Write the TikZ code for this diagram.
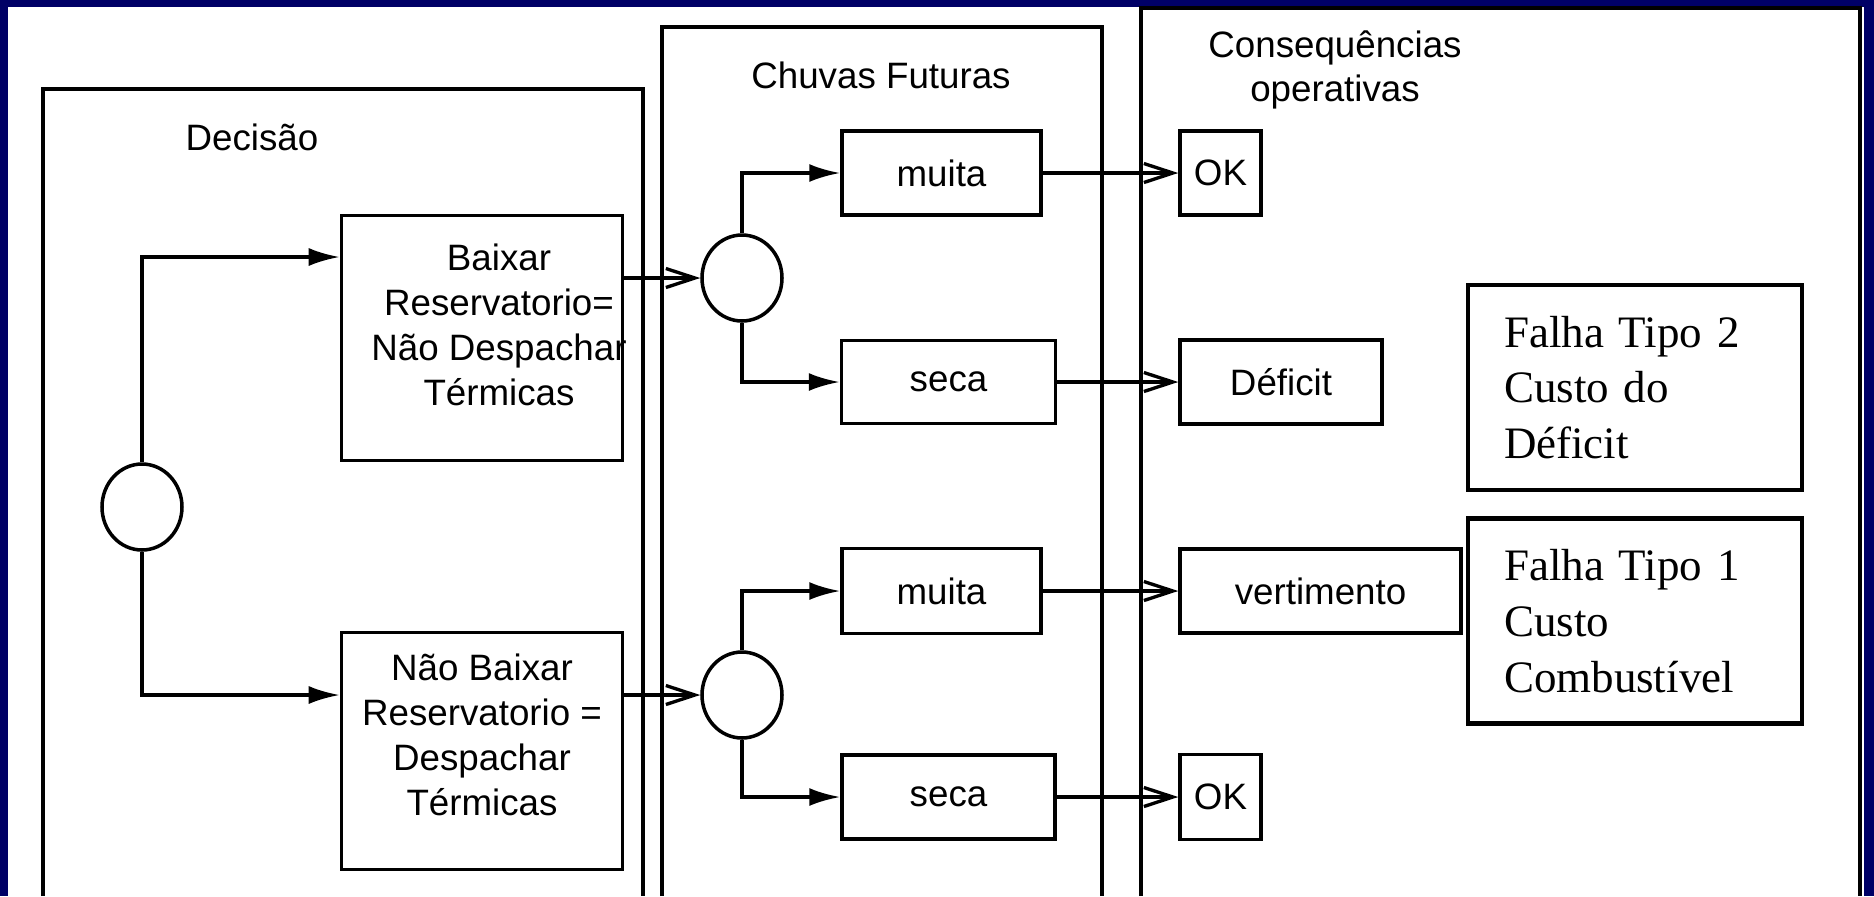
\documentclass[tikz,border=0pt]{standalone}
\usepackage{fontspec}
\setmainfont{Liberation Serif}
\setsansfont{Liberation Sans}
\usetikzlibrary{positioning,arrows.meta,shapes.geometric}
\definecolor{navy}{HTML}{000066}
\tikzset{
  lane/.style={draw, line width=0.95pt},
  lanetitle/.style={font=\sffamily\fontsize{10.45}{12.4}\selectfont, align=center},
  choice/.style={rectangle, draw, line width=1pt, inner sep=0pt, align=center,
                 font=\sffamily\fontsize{10.45}{12.8}\selectfont},
  choicetext/.style={align=center, font=\sffamily\fontsize{10.45}{12.8}\selectfont},
  chance/.style={ellipse, draw, line width=1pt, minimum width=8mm,
                 minimum height=8.6mm, inner sep=0pt},
  failbox/.style={rectangle, draw, line width=1.25pt, inner xsep=3.6mm, inner ysep=0pt,
                  text width=26.2mm, minimum height=20.5mm, align=left,
                  font=\fontsize{12.8}{15.9}\selectfont},
  decide/.style={-{Latex[length=3.1mm,width=1.8mm]}, line width=0.95pt},
  outcome/.style={-{Straight Barb[length=2.9mm,width=1.9mm]}, line width=0.95pt}
}
\begin{document}
\begin{tikzpicture}[x=0.1mm, y=-0.1mm]
\fill[navy] (0,0) rectangle (1874,896);
\fill[white] (8,7) rectangle (1864,896);
\useasboundingbox (0,0) rectangle (1874,896);
% three lanes
\draw[lane] (43,896) |- (643,89) -- (643,896);
\draw[lane] (662,896) |- (1102,27) -- (1102,896);
\draw[lane] (1141,896) |- (1860,8) -- (1860,896);
\node[lanetitle] (tdecisao) at (252,137) {Decisão};
\node[lanetitle] (tchuvas) at (881,75) {Chuvas Futuras};
\node[lanetitle] (tconseq) at (1335,70) {Consequências\\operativas};
% decision
\node[chance] (root) at (142,507) {};
\node[choice, minimum width=28.1mm, minimum height=24.5mm,
      label={[choicetext, xshift=1.7mm, yshift=1.3mm]center:Baixar\\Reservatorio=\\Não Despachar\\Térmicas}]
  (baixar) at (482,338) {};
\node[choice, minimum width=28.1mm, minimum height=23.7mm,
      label={[choicetext, yshift=1.6mm]center:Não Baixar\\Reservatorio =\\Despachar\\Térmicas}]
  (naobaixar) at (482,751) {};
% future rain
\node[chance] (chuvaA) at (742,278) {};
\node[chance] (chuvaB) at (742,695) {};
\node[choice, minimum width=19.9mm, minimum height=8.4mm] (muitaA) at (941.5,173) {muita};
\node[choice, minimum width=21.4mm, minimum height=8.3mm] (secaA) at (948.5,382) {seca};
\node[choice, minimum width=19.9mm, minimum height=8.5mm] (muitaB) at (941.5,591) {muita};
\node[choice, minimum width=21.3mm, minimum height=8.4mm] (secaB) at (948.5,797) {seca};
% consequences
\node[choice, minimum width=8.1mm, minimum height=8.4mm] (okA) at (1220.5,173) {OK};
\node[choice, minimum width=20.2mm, minimum height=8.4mm] (deficit) at (1281,382) {Déficit};
\node[choice, minimum width=28.1mm, minimum height=8.4mm] (vertimento) at (1320.5,591) {vertimento};
\node[choice, minimum width=8.1mm, minimum height=8.5mm] (okB) at (1220.5,797) {OK};
\node[failbox] (falha2) at (1635,387.5) {Falha Tipo 2\\Custo do\\Déficit};
\node[failbox] (falha1) at (1635,621) {Falha Tipo 1\\Custo\\Combustível};
% connectors
\draw[decide] (root.north) |- ([yshift=8.1mm]baixar.west);
\draw[decide] (root.south) |- ([yshift=5.6mm]naobaixar.west);
\draw[outcome] (baixar.east |- chuvaA.west) -- (chuvaA.west);
\draw[outcome] (naobaixar.east |- chuvaB.west) -- (chuvaB.west);
\draw[decide] (chuvaA.north) |- (muitaA.west);
\draw[decide] (chuvaA.south) |- (secaA.west);
\draw[decide] (chuvaB.north) |- (muitaB.west);
\draw[decide] (chuvaB.south) |- (secaB.west);
\draw[outcome] (muitaA.east) -- (okA.west);
\draw[outcome] (secaA.east) -- (deficit.west);
\draw[outcome] (muitaB.east) -- (vertimento.west);
\draw[outcome] (secaB.east) -- (okB.west);
\end{tikzpicture}
\end{document}
